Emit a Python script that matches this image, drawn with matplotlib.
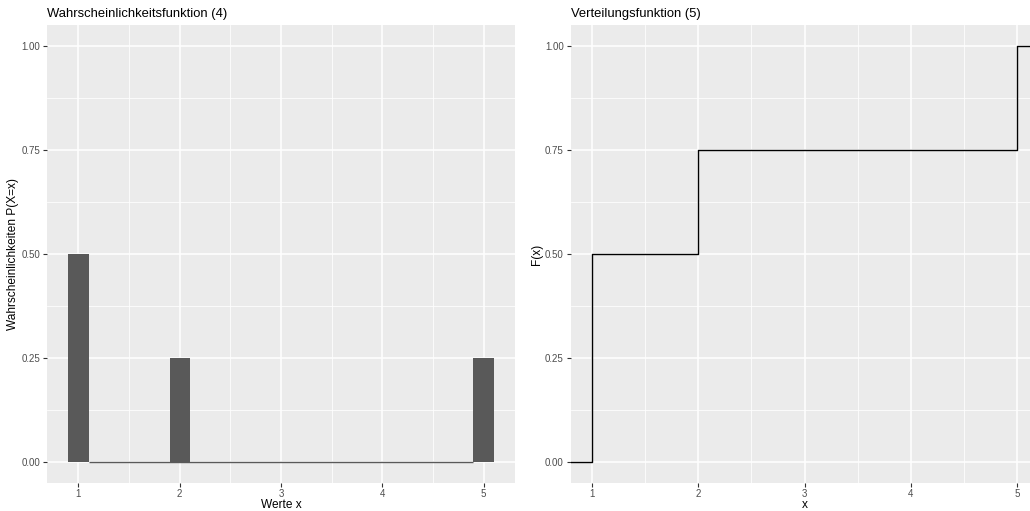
import matplotlib
matplotlib.use("Agg")
import matplotlib.pyplot as plt
import numpy as np

plt.rcParams['font.family'] = ['Liberation Sans', 'DejaVu Sans']

# Data
werte = [1, 2, 5]
wahrsch = [0.5, 0.25, 0.25]
cdf_x = [1, 2, 5]
cdf_y = [0.5, 0.75, 1.0]
yticks = [0.0, 0.25, 0.5, 0.75, 1.0]
ytick_labels = ["0.00", "0.25", "0.50", "0.75", "1.00"]
xticks = [1, 2, 3, 4, 5]

W, H = 1030, 511
fig = plt.figure(figsize=(W / 100, H / 100), dpi=100)
fig.patch.set_facecolor('white')

BG = '#EBEBEB'
BAR = '#595959'
TICKC = '#4D4D4D'


def make_ax(left, right, top, bottom):
    return fig.add_axes([left / W, (H - bottom) / H, (right - left) / W, (bottom - top) / H])


def style(ax, xlim):
    ax.set_facecolor(BG)
    for s in ax.spines.values():
        s.set_visible(False)
    ax.set_xlim(*xlim)
    ax.set_ylim(-0.05, 1.05)
    ax.set_xticks(xticks)
    ax.set_xticklabels([str(t) for t in xticks])
    ax.set_yticks(yticks)
    ax.set_yticklabels(ytick_labels)
    ax.set_xticks([1.5, 2.5, 3.5, 4.5], minor=True)
    ax.set_yticks([0.125, 0.375, 0.625, 0.875], minor=True)
    ax.grid(which='major', color='white', linewidth=1.1)
    ax.grid(which='minor', color='white', linewidth=0.55)
    ax.set_axisbelow(True)
    ax.tick_params(which='major', length=3, width=0.8, color='#333333',
                   labelsize=7, labelcolor=TICKC, pad=2)
    ax.tick_params(axis='x', which='major', pad=1.2)
    ax.tick_params(which='minor', length=0)


# Left panel
ax1 = make_ax(47, 515, 25, 483)
style(ax1, (0.69, 5.31))
ax1.bar(werte, wahrsch, width=0.2, color=BAR, zorder=3)
ax1.plot([werte[0] + 0.1, werte[-1] - 0.1], [0, 0], color=BAR, linewidth=1.0, zorder=3,
         solid_capstyle='butt')
ax1.set_title("Wahrscheinlichkeitsfunktion (4)", loc='left', fontsize=9.4, pad=6)
ax1.set_xlabel("Werte x", fontsize=8.6, labelpad=0)
ax1.set_ylabel("Wahrscheinlichkeiten P(X=x)", fontsize=8.6, labelpad=1.5)

# Right panel (extends past the right edge of the image)
ax2 = make_ax(570.7, 1038.6, 25, 483)
style(ax2, (0.8, 5.2))
xs = [0.0] + cdf_x + [6.0]
ys = [0.0] + cdf_y + [cdf_y[-1]]
ax2.step(xs, ys, where='post', color='black', linewidth=1.0, zorder=3)
ax2.set_title("Verteilungsfunktion (5)", loc='left', fontsize=9.4, pad=6)
ax2.set_xlabel("x", fontsize=8.6, labelpad=0)
ax2.set_ylabel("F(x)", fontsize=8.6, labelpad=1.5)

fig.savefig("out.png", dpi=100, facecolor='white')
